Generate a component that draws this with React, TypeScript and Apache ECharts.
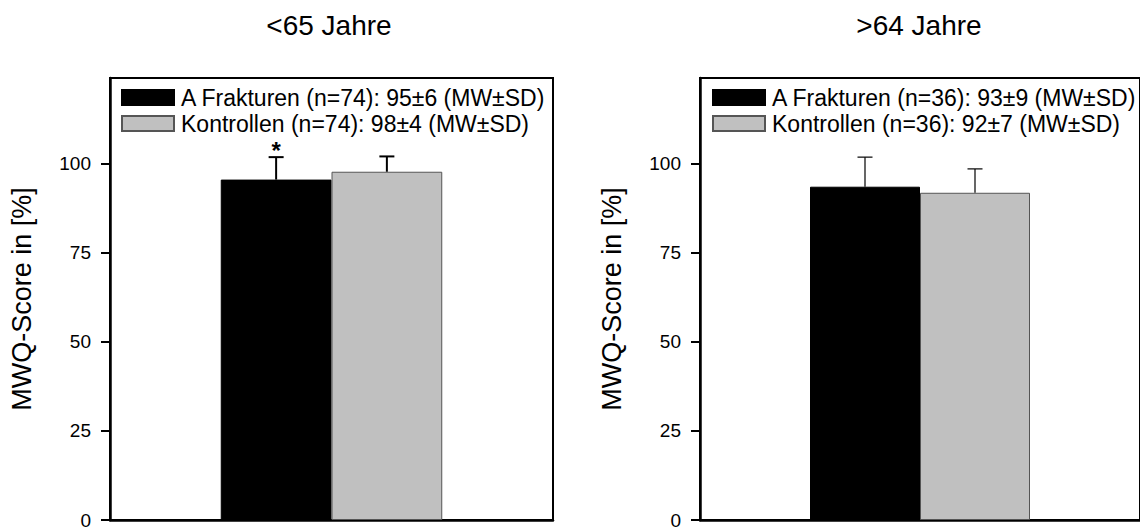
import React, { useEffect, useRef } from "react";
import * as echarts from "echarts";

const categories = ["MWQ"];
const yTicks = [0, 25, 50, 75, 100];
const yMax = 124;

const leftTitle = "<65 Jahre";
const leftNames = ["A Frakturen (n=74): 95±6 (MW±SD)", "Kontrollen (n=74): 98±4 (MW±SD)"];
const leftMeans = [95.5, 97.7];
const leftSD = [6.3, 4.3];
const leftMarks = ["*", ""];

const rightTitle = ">64 Jahre";
const rightNames = ["A Frakturen (n=36): 93±9 (MW±SD)", "Kontrollen (n=36): 92±7 (MW±SD)"];
const rightMeans = [93.5, 91.8];
const rightSD = [8.3, 6.7];
const rightMarks = ["", ""];

const yName = "MWQ-Score in [%]";

const FONT = "'Liberation Sans', Arial, Helvetica, sans-serif";
const barColors = ["#000000", "#c0c0c0"];
const barBorders = ["#000000", "#555555"];

function makeErrSeries(gridIdx: number, means: number[], sds: number[], marks: string[], lw: number) {
  return {
    type: "custom",
    xAxisIndex: gridIdx,
    yAxisIndex: gridIdx,
    z: 5,
    silent: true,
    data: means.map((m, i) => [0, m, sds[i], i]),
    renderItem: (params: any, api: any) => {
      const cat = api.value(0);
      const mean = api.value(1);
      const sd = api.value(2);
      const bi = api.value(3);
      const base = api.coord([cat, mean]);
      const top = api.coord([cat, mean + sd]);
      const band = api.size([1, 0])[0];
      const bw = band * 0.25;
      const x = base[0] + (bi - 0.5) * bw;
      const children: any[] = [
        { type: "line", shape: { x1: x, y1: base[1], x2: x, y2: top[1] }, style: { stroke: "#000", lineWidth: lw } },
        { type: "line", shape: { x1: x - 7.5, y1: top[1], x2: x + 7.5, y2: top[1] }, style: { stroke: "#000", lineWidth: lw } },
      ];
      const mk = marks[params.dataIndex];
      if (mk) {
        children.push({
          type: "text",
          style: {
            text: mk,
            x: x,
            y: top[1] - 7,
            textAlign: "center",
            textVerticalAlign: "middle",
            fontSize: 24,
            lineHeight: 10,
            fontWeight: "bold",
            fontFamily: FONT,
            fill: "#000",
          },
        });
      }
      return { type: "group", children };
    },
  };
}

function makeBars(gridIdx: number, names: string[], means: number[]) {
  return names.map((n, i) => ({
    type: "bar",
    name: n,
    xAxisIndex: gridIdx,
    yAxisIndex: gridIdx,
    data: [means[i]],
    barGap: "0%",
    barCategoryGap: "50%",
    itemStyle: { color: barColors[i], borderColor: barBorders[i], borderWidth: 1 },
  }));
}

export default function App() {
  const ref = useRef<HTMLDivElement>(null);
  useEffect(() => {
    if (!ref.current) return;
    const chart = echarts.init(ref.current, null, { renderer: "svg" });
    const grids = [
      { left: 110, top: 78, width: 443, height: 442 },
      { left: 700, top: 78, width: 443, height: 442 },
    ];
    const yAxisBase = (gi: number) => ({
      type: "value",
      gridIndex: gi,
      min: 0,
      max: yMax,
      interval: 25,
      name: yName,
      nameLocation: "middle",
      nameGap: 75,
      nameTextStyle: { fontSize: 27, fontFamily: FONT, color: "#000" },
      axisLine: { show: true, lineStyle: { color: "#000", width: 2.5 } },
      axisTick: { show: true, inside: false, length: 9, lineStyle: { color: "#000", width: 2 }, customValues: yTicks },
      axisLabel: { show: false },
      splitLine: { show: false },
    });
    const xAxisBase = (gi: number) => ({
      type: "category",
      gridIndex: gi,
      data: categories,
      axisLine: { show: true, lineStyle: { color: "#000", width: 2.5 } },
      axisTick: { show: false },
      axisLabel: { show: false },
    });
    const legendBase = (left: number, names: string[]) => ({
      orient: "vertical",
      left,
      top: 81,
      itemWidth: 52,
      itemHeight: 15,
      itemGap: 3,
      icon: "rect",
      data: names,
      selectedMode: false,
      textStyle: { fontSize: 23, lineHeight: 20, fontFamily: FONT, color: "#000", padding: [0, 0, 0, 2] },
    });
    const titles = [
      { type: "text", x: 329, y: 11, style: { text: leftTitle, textAlign: "center", textVerticalAlign: "top", fontSize: 28, fontFamily: FONT, fill: "#000" } },
      { type: "text", x: 919, y: 11, style: { text: rightTitle, textAlign: "center", textVerticalAlign: "top", fontSize: 28, fontFamily: FONT, fill: "#000" } },
    ];
    chart.setOption({
      animation: false,
      backgroundColor: "#fff",
      grid: grids.map((g) => ({ ...g, show: true, borderColor: "#000", borderWidth: 2, backgroundColor: "transparent" })),
      xAxis: [xAxisBase(0), xAxisBase(1)],
      yAxis: [yAxisBase(0), yAxisBase(1)],
      legend: [legendBase(116, leftNames), legendBase(707, rightNames)],
      graphic: titles,
      series: [
        ...makeBars(0, leftNames, leftMeans),
        makeErrSeries(0, leftMeans, leftSD, leftMarks, 2),
        ...makeBars(1, rightNames, rightMeans),
        makeErrSeries(1, rightMeans, rightSD, rightMarks, 1.2),
      ],
    });
    const tickLabels: any[] = [];
    grids.forEach((g, gi) => {
      yTicks.forEach((v) => {
        const py = chart.convertToPixel({ yAxisIndex: gi }, v) as number;
        tickLabels.push({
          type: "text",
          x: g.left - 19,
          y: py,
          style: { text: String(v), textAlign: "right", textVerticalAlign: "middle", fontSize: 19, fontFamily: FONT, fill: "#000" },
        });
      });
    });
    chart.setOption({ graphic: [...titles, ...tickLabels] }, { replaceMerge: ["graphic"] });
    return () => chart.dispose();
  }, []);
  return <div ref={ref} style={{ position: "fixed", left: 0, top: 0, width: 1140, height: 529 }} />;
}
